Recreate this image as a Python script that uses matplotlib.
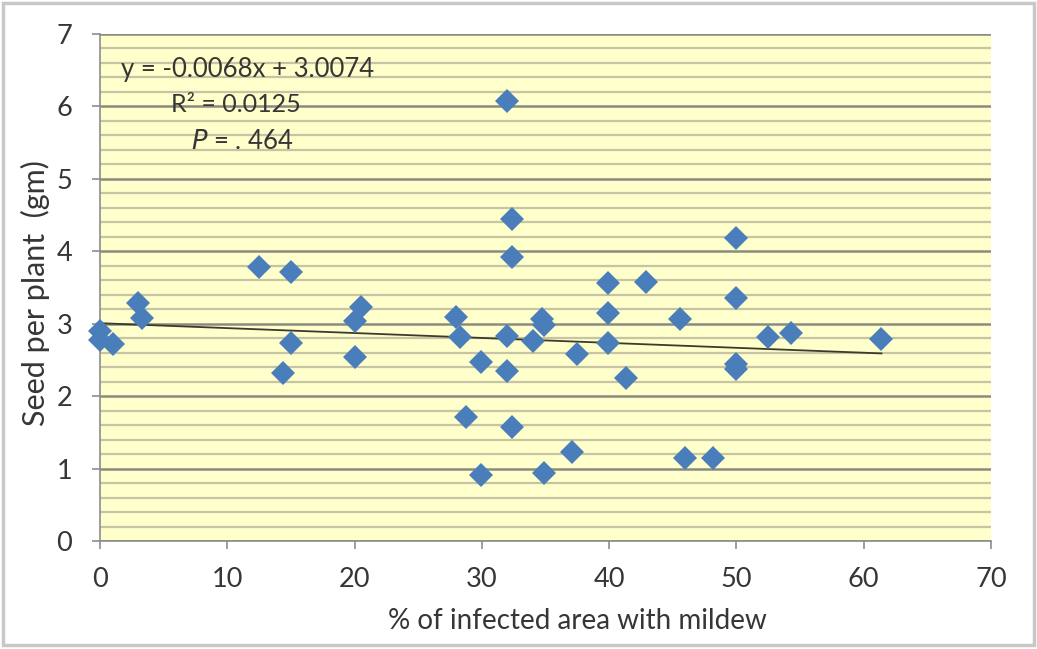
import numpy as np
import matplotlib.pyplot as plt
from matplotlib.patches import Rectangle

# infected leaf area (%) and seed yield per plant (gm)
infected = [0.0, 0.0, 1.0, 3.0, 3.3, 12.5, 15.0, 15.0, 14.4, 20.5, 20.0, 20.0,
            32.0, 32.4, 32.4, 39.9, 42.9, 39.9, 45.6, 28.0, 28.3, 32.0, 34.7,
            34.9, 34.0, 37.5, 39.9, 29.9, 32.0, 41.3, 28.75, 32.4, 37.1, 46.0,
            29.9, 34.9, 50.0, 50.0, 52.5, 54.3, 61.4, 50.0, 50.0, 48.2]
seed = [2.90, 2.77, 2.72, 3.29, 3.08, 3.79, 3.72, 2.73, 2.32, 3.23, 3.04, 2.54,
        6.08, 4.45, 3.92, 3.56, 3.58, 3.15, 3.07, 3.09, 2.82, 2.83, 3.06,
        2.98, 2.76, 2.58, 2.73, 2.47, 2.35, 2.25, 1.71, 1.57, 1.23, 1.15,
        0.91, 0.94, 4.18, 3.35, 2.81, 2.87, 2.79, 2.44, 2.37, 1.15]

# linear trend line
slope = -0.0068
intercept = 3.0074
r2 = 0.0125

plt.rcParams['font.family'] = ['Lato', 'DejaVu Sans']
txt = '#363636'

fig = plt.figure(figsize=(10.37, 6.49), dpi=100)
ax = fig.add_axes([0.0964, 0.1664, 0.8592, 0.7812])
ax.set_facecolor('#ffffcc')

# outer chart border
fig.patches.append(Rectangle((0.003, 0.006), 0.994, 0.989, transform=fig.transFigure,
                             fill=False, edgecolor='#c8c8c8', linewidth=2.5))

ax.set_xlim(0, 70)
ax.set_ylim(0, 7)
ax.set_xticks(np.arange(0, 71, 10))
ax.set_yticks(np.arange(0, 8, 1))
ax.set_yticks(np.arange(0, 7.01, 0.2), minor=True)
ax.tick_params(axis='y', which='minor', length=0)
ax.tick_params(axis='both', which='major', length=6, width=1.2, color='#8c8c8c',
               labelsize=19.5, labelcolor=txt, pad=14)
ax.tick_params(axis='x', pad=13)

ax.grid(True, axis='y', which='major', color='#8a8a80', linewidth=1.8)
ax.grid(True, axis='y', which='minor', color='#c6c4a4', linewidth=1.6)
ax.set_axisbelow(True)

for side in ['top', 'right']:
    ax.spines[side].set_visible(False)
for side in ['left', 'bottom']:
    ax.spines[side].set_color('#8c8c8c')
    ax.spines[side].set_linewidth(1.2)

xs = np.array([min(infected), max(infected)])
ax.plot(xs, slope * xs + intercept, color='#3a3a30', linewidth=1.3, zorder=3)

ax.plot(infected, seed, linestyle='none', marker='D', markersize=12,
        color='#4a7ebb', markeredgewidth=0, zorder=4, clip_on=False)

ax.text(0.166, 0.93, 'y = %.4fx + %.4f' % (slope, intercept), transform=ax.transAxes,
        ha='center', va='center', fontsize=18.5, color=txt)
ax.text(0.153, 0.86, 'R² = %.4f' % r2, transform=ax.transAxes,
        ha='center', va='center', fontsize=18, color=txt)
ax.text(0.160, 0.787, '$\\mathit{P}$ = . 464', transform=ax.transAxes,
        ha='center', va='center', fontsize=18.5, color=txt)

ax.set_xlabel('% of infected area with mildew', fontsize=20, color=txt)
ax.xaxis.set_label_coords(0.536, -0.132)
ax.set_ylabel('Seed per plant  (gm)', fontsize=22, color=txt)
ax.yaxis.set_label_coords(-0.056, 0.49)

fig.savefig('out.png', dpi=100)
